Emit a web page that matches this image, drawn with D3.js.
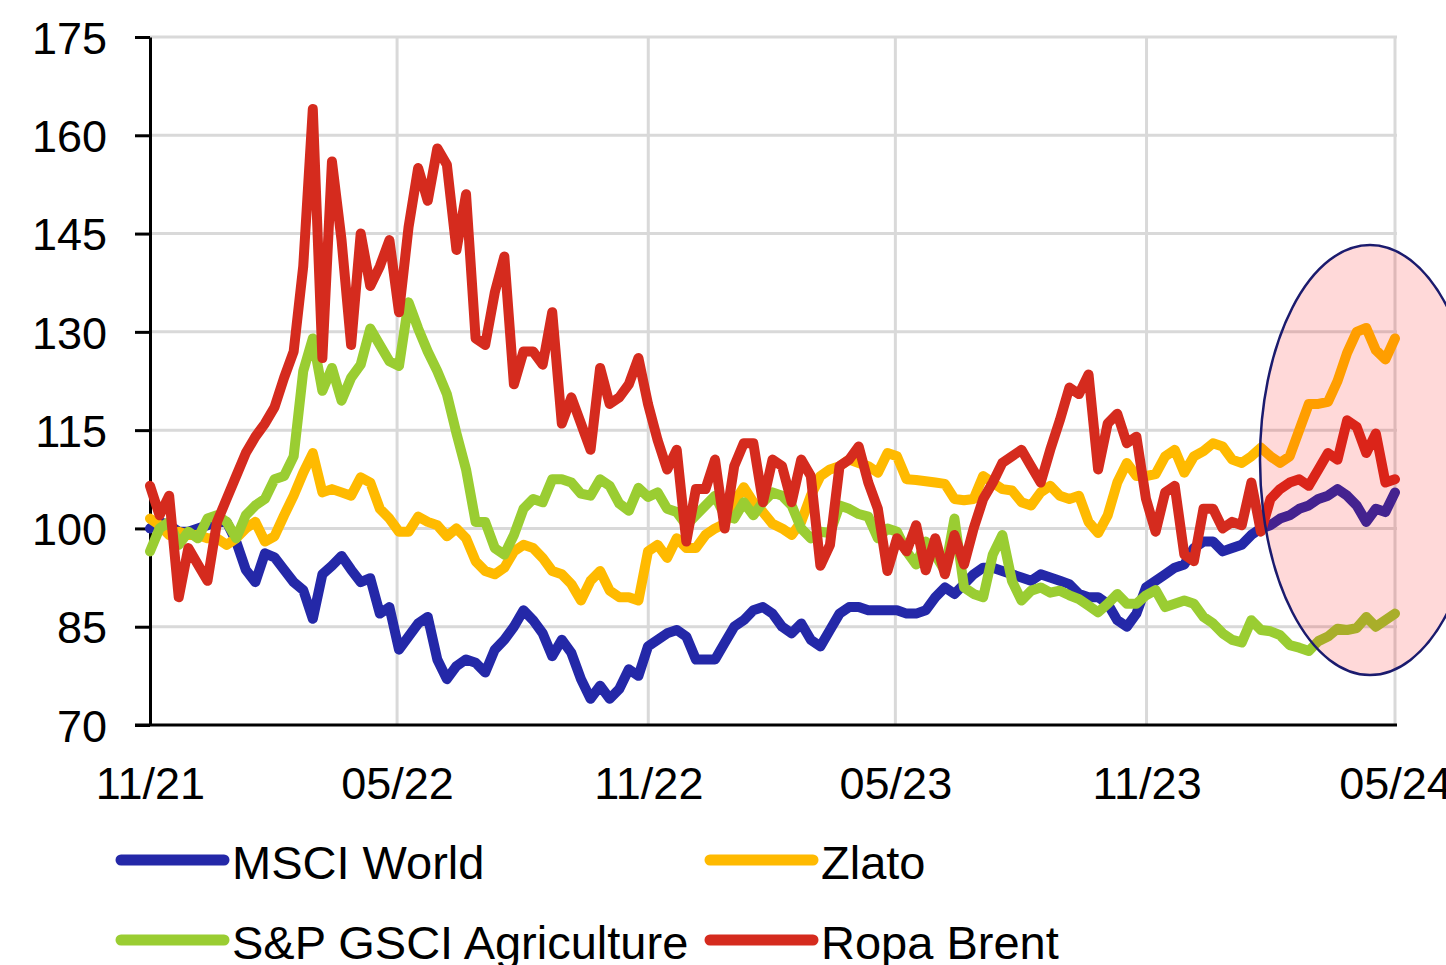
<!DOCTYPE html>
<html>
<head>
<meta charset="utf-8">
<script src="https://cdn.jsdelivr.net/npm/d3@7"></script>
<style>
  html, body { margin: 0; padding: 0; background: #fff; }
  svg { display: block; font-family: "Liberation Sans", Arial, sans-serif; }
</style>
</head>
<body>
<svg id="chart" width="1446" height="965"></svg>
<script>
// Weekly index values (start = 100), Nov 2021 – May 2024
const msciWorld = [
  100, 101, 100.5, 99.5, 99.5, 100, 100.5, 101, 101, 98,
  93.7, 91.8, 96.2, 95.6, 93.7, 91.8, 90.6, 86.2, 93, 94.3,
  95.8, 93.7, 91.8, 92.4, 87, 88, 81.5, 83.5, 85.5, 86.5,
  80, 77, 79, 80, 79.5, 78, 81.5, 83, 85, 87.5,
  86, 84, 80.5, 83, 81, 77, 74, 76, 74, 75.5,
  78.5, 77.5, 82, 83, 84, 84.5, 83.5, 80, 80, 80,
  82.5, 85, 86, 87.5, 88, 87, 85, 84, 85.5, 83,
  82, 84.5, 87, 88, 88, 87.5, 87.5, 87.5, 87.5, 87,
  87, 87.5, 89.5, 91, 90, 91.5, 93, 94, 94, 93.5,
  93, 92.5, 92, 93, 92.5, 92, 91.5, 90, 89.5, 89.5,
  88.5, 86, 85, 87, 91, 92, 93, 94, 94.5, 97,
  98, 98, 96.5, 97, 97.5, 99, 100, 100.5, 101.5, 102,
  103, 103.5, 104.5, 105, 106, 105, 103.5, 101, 103, 102.5,
  105.5
];
const zlato = [
  101.5, 100.5, 99, 99.5, 99, 99, 98.5, 98.5, 97.5, 98.5,
  100, 101, 98, 98.8, 102, 105, 108.5, 111.5, 105.5, 106,
  105.5, 105, 107.8, 107, 103, 101.5, 99.5, 99.5, 101.8, 101,
  100.5, 98.8, 100, 98.5, 95, 93.5, 93, 94, 96.5, 97.5,
  97, 95.5, 93.5, 93, 91.5, 89, 92, 93.5, 90.5, 89.5,
  89.5, 89, 96.5, 97.5, 95.5, 98.5, 97, 97, 99, 100,
  100.7, 104, 106.3, 104, 102.5, 100.7, 100, 99, 101, 105,
  108, 109, 109.5, 110.5, 110, 109.5, 108.5, 111.5, 111, 107.5,
  107.4, 107.2, 107, 106.8, 104.5, 104.3, 104.5, 108, 107, 106,
  105.8, 104, 103.5, 105.5, 106.5, 105, 104.5, 105, 101, 99.3,
  102, 107, 110, 108, 108, 108.3, 111, 112, 108.5, 111,
  111.8, 113, 112.5, 110.5, 110, 111, 112.3, 111, 110, 111,
  115, 119, 119, 119.3, 122.5, 126.8, 130, 130.6, 127.2, 125.8,
  129
];
const spGsciAgri = [
  96.5, 100, 101, 97.5, 99.5, 98.5, 101.5, 102, 101, 98.5,
  102, 103.5, 104.5, 107.5, 108, 111, 124, 129, 121, 124.5,
  119.5, 123, 125, 130.5, 128, 125.5, 124.8, 134.5, 130.5, 127,
  124, 120.5, 114.5, 109, 101, 101, 97, 96, 99, 103,
  104.5, 104, 107.5, 107.5, 107, 105.3, 105, 107.5, 106.5, 103.8,
  102.7, 106.2, 104.8, 105.5, 103, 102.5, 100.5, 102, 103.5, 105,
  102, 101.5, 104, 102, 104, 105.5, 105, 103.5, 100, 98.5,
  99.5, 99.3, 103.5, 103, 102.2, 101.8, 98.5, 100, 99.5, 96.5,
  94.5, 98, 96, 93.5, 101.5, 91, 90, 89.5, 96, 99,
  92, 89, 90.5, 91, 90.2, 90.5, 89.8, 89.2, 88.2, 87.2,
  88.5, 90, 88.5, 88.5, 89.8, 90.6, 88, 88.5, 89, 88.5,
  86.5, 85.5, 84, 83, 82.6, 86, 84.5, 84.3, 83.7, 82.2,
  81.8, 81.3, 82.8, 83.5, 84.7, 84.5, 84.8, 86.5, 85, 86,
  87
];
const ropaBrent = [
  106.5, 102, 105, 89.5, 97, 94.5, 92, 101, 104.5, 108,
  111.5, 114, 116, 118.5, 123, 127, 140, 164, 126, 156,
  144, 128, 145, 137, 140, 144, 133, 146, 155, 150,
  158, 155.5, 142.5, 151, 129, 128, 136, 141.5, 122, 127,
  127, 125, 133, 116, 120, 116, 112, 124.5, 119, 120,
  122, 126, 119, 113.5, 109, 112, 98, 106, 106, 110.5,
  100, 109.5, 113, 113, 104, 110.5, 109.5, 104, 110.5, 108,
  94.3, 97.5, 109.5, 110.5, 112.5, 107, 103, 93.5, 98.5, 96.5,
  100.5, 93.6, 98.5, 93, 99, 94.5, 100, 104.5, 107, 110,
  111, 112, 109.5, 107, 112, 116.5, 121.5, 120.5, 123.5, 109,
  116, 117.5, 113, 114, 104.5, 99.5, 105.5, 106.5, 96, 95,
  103, 103, 100, 101, 100.5, 107, 99.5, 104.5, 106, 107,
  107.5, 106.5, 109, 111.5, 110.5, 116.5, 115.5, 111.5, 114.5, 107,
  107.5
];

const seriesNames = ["MSCI World", "Zlato", "S&P GSCI Agriculture", "Ropa Brent"];
const seriesColors = ["#2428A8", "#FFBA00", "#9ACD32", "#D52B1E"];
const yTicks = [70, 85, 100, 115, 130, 145, 160, 175];
const xTickLabels = ["11/21", "05/22", "11/22", "05/23", "11/23", "05/24"];
const xTickDates = [
  new Date(2021, 10, 1), new Date(2022, 4, 1), new Date(2022, 10, 1),
  new Date(2023, 4, 1), new Date(2023, 10, 1), new Date(2024, 4, 1)
];

const startDate = xTickDates[0];
const endDate = xTickDates[xTickDates.length - 1];
const n = msciWorld.length;
const dates = d3.range(n).map(i => new Date(+startDate + i * (endDate - startDate) / (n - 1)));

const svg = d3.select("#chart");
const plotLeft = 150, plotRight = 1395, plotTop = 37, plotBottom = 725;
const fontSize = 45;
const legendFontSize = 47;

const x = d3.scaleTime().domain([startDate, endDate]).range([plotLeft, plotRight]);
const y = d3.scaleLinear().domain([70, 175]).range([plotBottom, plotTop]);

svg.append("rect").attr("width", 1446).attr("height", 965).attr("fill", "#fff");

// Gridlines
const grid = svg.append("g").attr("stroke", "#D9D9D9").attr("stroke-width", 3);
grid.selectAll("line.h").data(yTicks.filter(t => t > 70)).join("line")
  .attr("class", "h")
  .attr("x1", plotLeft).attr("x2", plotRight + 2)
  .attr("y1", d => y(d)).attr("y2", d => y(d));
grid.selectAll("line.v").data(xTickDates.slice(1)).join("line")
  .attr("class", "v")
  .attr("x1", d => x(d)).attr("x2", d => x(d))
  .attr("y1", plotTop).attr("y2", plotBottom);

// Y axis
const yAxis = d3.axisLeft(y).tickValues(yTicks).tickSize(15).tickPadding(28).tickSizeOuter(0);
const gy = svg.append("g").attr("transform", `translate(${plotLeft},0)`).call(yAxis);
gy.select(".domain").attr("stroke", "#000").attr("stroke-width", 3);
gy.selectAll(".tick line").attr("stroke", "#000").attr("stroke-width", 3);
gy.selectAll(".tick text")
  .attr("font-size", fontSize).attr("font-family", "Liberation Sans, Arial, sans-serif")
  .attr("fill", "#000").attr("dy", "0.36em");

// X axis
const xAxis = d3.axisBottom(x).tickValues(xTickDates)
  .tickFormat((d, i) => xTickLabels[i]).tickSize(0).tickPadding(42).tickSizeOuter(0);
const gx = svg.append("g").attr("transform", `translate(0,${plotBottom})`).call(xAxis);
gx.select(".domain").remove();
gx.append("line").attr("x1", plotLeft - 15).attr("x2", plotRight + 2).attr("y1", 0).attr("y2", 0)
  .attr("stroke", "#000").attr("stroke-width", 3);
gx.selectAll(".tick text")
  .attr("font-size", fontSize).attr("font-family", "Liberation Sans, Arial, sans-serif")
  .attr("fill", "#000").attr("dy", "0.71em");

// Series lines
const allSeries = [msciWorld, zlato, spGsciAgri, ropaBrent];
const line = d3.line().x((d, i) => x(dates[i])).y(d => y(d));
svg.append("g").selectAll("path").data(allSeries).join("path")
  .attr("d", d => line(d))
  .attr("fill", "none")
  .attr("stroke", (d, i) => seriesColors[i])
  .attr("stroke-width", 10)
  .attr("stroke-linejoin", "round")
  .attr("stroke-linecap", "round");

// Highlight of the latest period
svg.append("ellipse")
  .attr("cx", 1370).attr("cy", 460).attr("rx", 110).attr("ry", 215)
  .attr("fill", "rgba(255,0,0,0.15)")
  .attr("stroke", "#1B1B6E").attr("stroke-width", 2.5);

// Legend
const legendPos = [
  { lx: 121, ly: 860 }, { lx: 710, ly: 860 },
  { lx: 121, ly: 940 }, { lx: 710, ly: 940 }
];
const legend = svg.append("g");
seriesNames.forEach((name, i) => {
  const p = legendPos[i];
  legend.append("line")
    .attr("x1", p.lx).attr("x2", p.lx + 103)
    .attr("y1", p.ly).attr("y2", p.ly)
    .attr("stroke", seriesColors[i]).attr("stroke-width", 11)
    .attr("stroke-linecap", "round");
  legend.append("text")
    .attr("x", p.lx + 111).attr("y", p.ly + 19)
    .attr("font-size", legendFontSize).attr("fill", "#000")
    .text(name);
});
</script>
</body>
</html>
